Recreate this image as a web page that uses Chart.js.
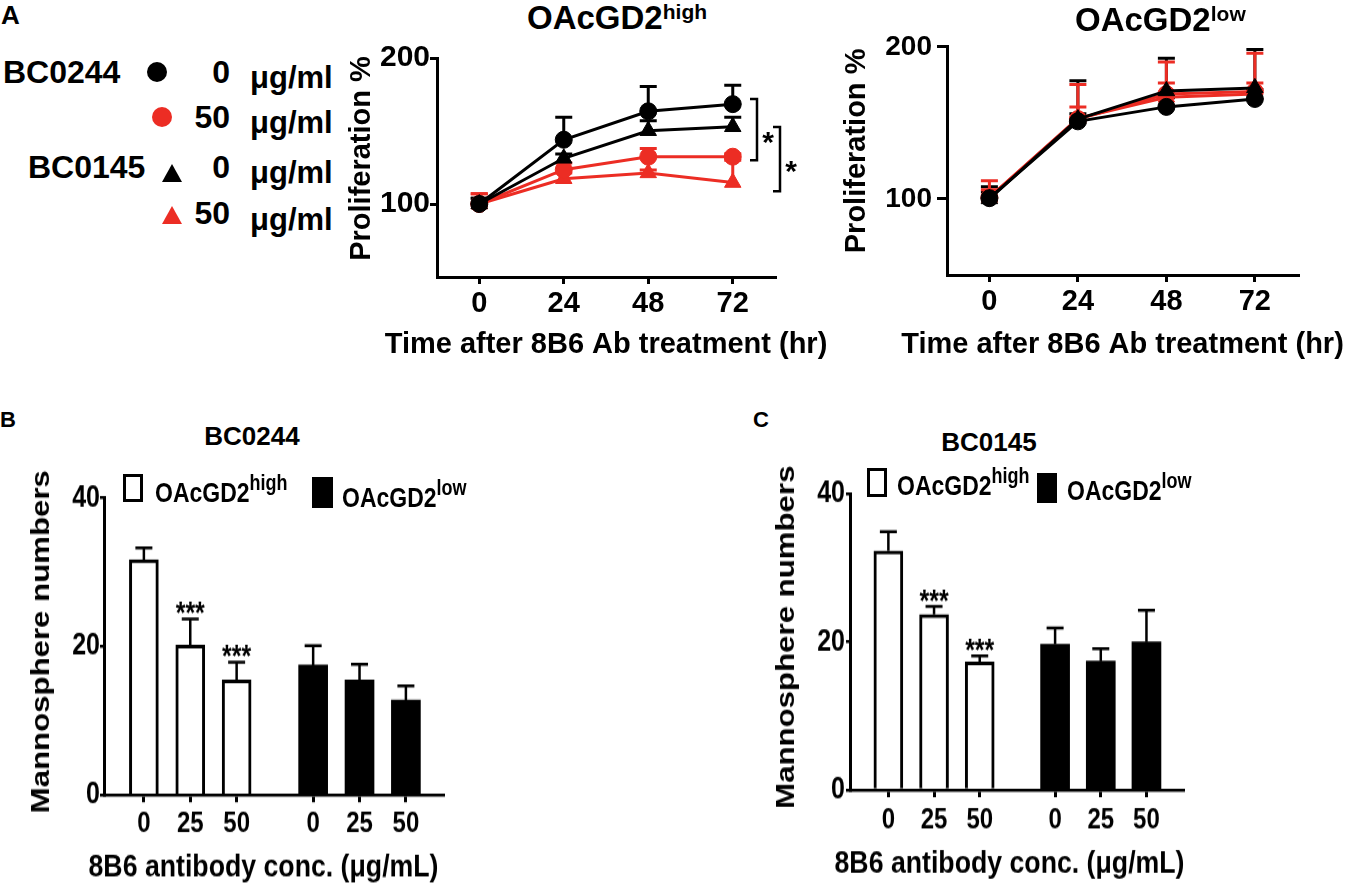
<!DOCTYPE html>
<html>
<head>
<meta charset="utf-8">
<script src="https://cdn.jsdelivr.net/npm/chart.js@4.4.0/dist/chart.umd.min.js"></script>
<style>
body { margin: 0; background: #fff; }
#fig { position: relative; width: 1350px; height: 887px; overflow: hidden; background: #fff;
       font-family: 'Liberation Sans', Arial, sans-serif; font-weight: bold; color: #000; }
#fig canvas { position: absolute; }
.t { position: absolute; line-height: 1; white-space: nowrap; }
.r { text-align: right; }
.sy { transform: scaleY(1.2); transform-origin: 0 0; }
.sup { position: relative; }
.dot { position: absolute; width: 20px; height: 20px; border-radius: 50%; }
.tri { position: absolute; width: 0; height: 0; border-left: 10px solid transparent; border-right: 10px solid transparent; }
.box { position: absolute; box-sizing: border-box; border: 3px solid #000; }
</style>
</head>
<body>
<div id="fig">
  <canvas id="highChart" width="500" height="330" style="left:340px;top:40px;width:500px;height:330px"></canvas>
  <canvas id="lowChart" width="510" height="345" style="left:840px;top:25px;width:510px;height:345px"></canvas>
  <!-- os painéis B e C são esticados na vertical como na figura original -->
  <canvas id="bc0244Chart" width="460" height="356" style="left:0px;top:460px;width:460px;height:356px" class="sy"></canvas>
  <canvas id="bc0145Chart" width="460" height="356" style="left:745px;top:460px;width:460px;height:356px" class="sy"></canvas>

  <!-- letras dos painéis -->
  <div class="t" style="left:1px;top:2px;font-size:26px">A</div>
  <div class="t" style="left:0px;top:409px;font-size:22px">B</div>
  <div class="t" style="left:753px;top:409px;font-size:22px">C</div>

  <!-- legenda do painel A -->
  <div class="t" style="left:3px;top:56px;font-size:32px">BC0244</div>
  <div class="dot" style="left:147px;top:62px;background:#000"></div>
  <div class="t r" style="right:1120px;top:56px;font-size:32px">0</div>
  <div class="t" style="left:250px;top:62px;font-size:31px">&mu;g/ml</div>

  <div class="dot" style="left:152px;top:107px;background:#ec2d24"></div>
  <div class="t r" style="right:1120px;top:101px;font-size:32px">50</div>
  <div class="t" style="left:250px;top:107px;font-size:31px">&mu;g/ml</div>

  <div class="t" style="left:28px;top:151px;font-size:32px">BC0145</div>
  <div class="tri" style="left:162px;top:164px;border-bottom:18px solid #000"></div>
  <div class="t r" style="right:1120px;top:151px;font-size:32px">0</div>
  <div class="t" style="left:250px;top:157px;font-size:31px">&mu;g/ml</div>

  <div class="tri" style="left:162px;top:206px;border-bottom:18px solid #ec2d24"></div>
  <div class="t r" style="right:1120px;top:197px;font-size:32px">50</div>
  <div class="t" style="left:250px;top:204px;font-size:31px">&mu;g/ml</div>

  <!-- títulos do painel A -->
  <div class="t" style="left:527px;top:1px;font-size:33px">OAcGD2<span class="sup" style="font-size:21px;top:-10px">high</span></div>
  <div class="t" style="left:1075px;top:3px;font-size:33px">OAcGD2<span class="sup" style="font-size:21px;top:-10px">low</span></div>

  <!-- títulos e legendas dos painéis B e C -->
  <div class="t" style="left:152px;width:200px;text-align:center;top:423px;font-size:26px">BC0244</div>
  <div class="box" style="left:123px;top:474px;width:20px;height:28px;background:#fff"></div>
  <div class="t sy" style="left:155px;top:478.6px;font-size:23px">OAcGD2<span class="sup" style="font-size:18px;top:-10px">high</span></div>
  <div class="box" style="left:312px;top:477px;width:21px;height:31px;background:#000"></div>
  <div class="t sy" style="left:342px;top:483.6px;font-size:23px">OAcGD2<span class="sup" style="font-size:18px;top:-10px">low</span></div>

  <div class="t" style="left:889px;width:200px;text-align:center;top:429px;font-size:26px">BC0145</div>
  <div class="box" style="left:867px;top:468px;width:20px;height:29px;background:#fff"></div>
  <div class="t sy" style="left:897px;top:471.6px;font-size:23px">OAcGD2<span class="sup" style="font-size:18px;top:-10px">high</span></div>
  <div class="box" style="left:1037px;top:473px;width:20px;height:30px;background:#000"></div>
  <div class="t sy" style="left:1067px;top:476.6px;font-size:23px">OAcGD2<span class="sup" style="font-size:18px;top:-10px">low</span></div>
</div>

<script>
// ---- dados do painel A (proliferação %) ----
const horas = [0, 24, 48, 72];
const ticksHoras = [0, 24, 48, 72];
const ticksProlif = [100, 200];

// OAcGD2 high
const high_BC0244_0 = [100, 144, 163.5, 168.4];
const high_BC0244_0_err = [4, 15.5, 17, 13];
const high_BC0145_0 = [100, 131.3, 150.2, 152.9];
const high_BC0145_0_err = [4, 3, 6.8, 6.6];
const high_BC0244_50 = [100, 123.5, 132.4, 132.4];
const high_BC0244_50_err = [7, 4.5, 5.6, 2];
const high_BC0145_50 = [100, 117.3, 121.3, 114.7];
const high_BC0145_50_err = [7, 4, 2, 15.3];
// colchetes de significância (valor superior, valor inferior) e marcas
const colchetes = [[172, 130], [152.7, 108.7]];
const marcasColchetes = ['*', '*'];

// OAcGD2 low
const low_BC0244_0 = [100.5, 151, 160.5, 165.7];
const low_BC0244_0_err = [4, 5, 6, 6.3];
const low_BC0145_0 = [100, 152.5, 171, 173];
const low_BC0145_0_err = [8, 25.2, 21.4, 25.3];
const low_BC0244_50 = [101, 152.5, 168.9, 170.6];
const low_BC0244_50_err = [5, 8, 7.3, 5.6];
const low_BC0145_50 = [101, 153, 166.8, 168.9];
const low_BC0145_50_err = [11, 22.2, 23.2, 26.9];

// ---- dados dos painéis B e C (mamosferas) ----
const concentracoes = ['0', '25', '50'];
const ticksContagem = [0, 20, 40];

const bc0244_high = [31.7, 20.2, 15.5];
const bc0244_high_err = [1.6, 3.5, 2.4];
const bc0244_low = [17.5, 15.5, 12.8];
const bc0244_low_err = [2.6, 2.1, 1.9];
const bc0244_estrelas = ['', '***', '***'];

const bc0145_high = [32.3, 23.7, 17.3];
const bc0145_high_err = [2.6, 1.1, 0.8];
const bc0145_low = [19.7, 17.4, 20.0];
const bc0145_low_err = [2.2, 1.7, 4.3];
const bc0145_estrelas = ['', '***', '***'];

const PRETO = '#000';
const VERMELHO = '#ec2d24';
const FONTE = "'Liberation Sans', Arial, sans-serif";
const DESLOC_GRUPO = 3.65; // distância entre o grupo high e o grupo low no eixo x

Chart.defaults.animation = false;
Chart.defaults.color = PRETO;
Chart.defaults.font.family = FONTE;
Chart.defaults.font.weight = 'bold';

// Plugin: barras de erro (só para cima) e asteriscos
const barrasErro = {
    id: 'barrasErro',
    beforeDatasetsDraw(chart, args, opts) {
        const ctx = chart.ctx;
        const y = chart.scales.y;
        chart.data.datasets.forEach((ds, i) => {
            if (!ds.erros) return;
            const meta = chart.getDatasetMeta(i);
            ctx.save();
            ctx.strokeStyle = ds.corErro;
            ctx.lineWidth = opts.espessura || 3;
            meta.data.forEach((el, j) => {
                const v = ds.data[j].y;
                const base = y.getPixelForValue(v);
                const topo = y.getPixelForValue(v + ds.erros[j]);
                ctx.beginPath();
                ctx.moveTo(el.x, base);
                ctx.lineTo(el.x, topo);
                ctx.moveTo(el.x - 8.5, topo);
                ctx.lineTo(el.x + 8.5, topo);
                ctx.stroke();
            });
            ctx.restore();
        });
    },
    afterDatasetsDraw(chart, args, opts) {
        const ctx = chart.ctx;
        const y = chart.scales.y;
        chart.data.datasets.forEach((ds, i) => {
            if (!ds.estrelas) return;
            const meta = chart.getDatasetMeta(i);
            ctx.save();
            ctx.fillStyle = PRETO;
            ctx.font = 'bold 25px ' + FONTE;
            ctx.textAlign = 'center';
            ctx.textBaseline = 'alphabetic';
            meta.data.forEach((el, j) => {
                if (!ds.estrelas[j]) return;
                const topo = y.getPixelForValue(ds.data[j].y + ds.erros[j]);
                ctx.fillText(ds.estrelas[j], el.x, topo + 3.5);
            });
            ctx.restore();
        });
    }
};

// Plugin: títulos dos eixos (o título nativo encolhe o texto à largura da área)
const titulosEixos = {
    id: 'titulosEixos',
    afterDraw(chart, args, opts) {
        const ctx = chart.ctx;
        const area = chart.chartArea;
        ctx.save();
        ctx.fillStyle = PRETO;
        ctx.textAlign = 'center';
        if (opts.x) {
            ctx.font = 'bold ' + opts.x.tamanho + 'px ' + FONTE;
            ctx.textBaseline = 'alphabetic';
            ctx.fillText(opts.x.texto, (area.left + area.right) / 2 + (opts.x.dx || 0), opts.x.base);
        }
        if (opts.y) {
            ctx.font = 'bold ' + opts.y.tamanho + 'px ' + FONTE;
            ctx.textBaseline = 'middle';
            ctx.translate(opts.y.cx, (area.top + area.bottom) / 2 + (opts.y.dy || 0));
            ctx.rotate(-Math.PI / 2);
            ctx.fillText(opts.y.texto, 0, 0);
        }
        ctx.restore();
    }
};

// Plugin: colchetes de significância à direita do gráfico
const colchetesSig = {
    id: 'colchetesSig',
    afterDraw(chart) {
        const ctx = chart.ctx;
        const y = chart.scales.y;
        const area = chart.chartArea;
        ctx.save();
        ctx.strokeStyle = PRETO;
        ctx.fillStyle = PRETO;
        ctx.lineWidth = 2.5;
        ctx.font = 'bold 30px ' + FONTE;
        ctx.textAlign = 'center';
        colchetes.forEach((c, i) => {
            const x = area.right - 18 + i * 23;
            const y1 = y.getPixelForValue(c[0]);
            const y2 = y.getPixelForValue(c[1]);
            ctx.beginPath();
            ctx.moveTo(x - 7, y1);
            ctx.lineTo(x, y1);
            ctx.lineTo(x, y2);
            ctx.lineTo(x - 7, y2);
            ctx.stroke();
            ctx.fillText(marcasColchetes[i], x + 11, (y1 + y2) / 2 + 22);
        });
        ctx.restore();
    }
};

function serie(rotulo, valores, erros, cor, estilo) {
    return {
        label: rotulo,
        data: horas.map((h, i) => ({ x: h, y: valores[i] })),
        erros: erros,
        corErro: cor,
        borderColor: cor,
        backgroundColor: cor,
        pointBackgroundColor: cor,
        pointBorderColor: cor,
        pointBorderWidth: 1,
        pointStyle: estilo,
        pointRadius: estilo === 'triangle' ? 9.5 : 8.5,
        borderWidth: 3,
        tension: 0,
        clip: false
    };
}

function eixoLinha(cfg) {
    return {
        x: {
            type: 'linear',
            min: cfg.xMin, max: cfg.xMax,
            afterBuildTicks: s => { s.ticks = ticksHoras.map(v => ({ value: v })); },
            afterFit: s => { s.height = cfg.alturaX; },
            border: { display: true, color: PRETO, width: 3 },
            grid: { display: true, offset: false, drawOnChartArea: false, drawTicks: true, tickLength: 7, color: PRETO, lineWidth: 3 },
            ticks: { font: { size: 29, weight: 'bold' }, color: PRETO, padding: 3, maxRotation: 0, autoSkip: false }
        },
        y: {
            min: 50, max: 200,
            afterBuildTicks: s => { s.ticks = ticksProlif.map(v => ({ value: v })); },
            afterFit: s => { s.width = cfg.larguraY; },
            border: { display: true, color: PRETO, width: 3 },
            grid: { display: true, drawOnChartArea: false, drawTicks: true, tickLength: cfg.tickY, color: PRETO, lineWidth: 3 },
            ticks: { font: { size: cfg.fonteTickY, weight: 'bold' }, color: PRETO, padding: cfg.padTickY }
        }
    };
}

// Painel A - OAcGD2 high
new Chart(document.getElementById('highChart'), {
    type: 'line',
    data: {
        datasets: [
            serie('BC0244 0 μg/ml', high_BC0244_0, high_BC0244_0_err, PRETO, 'circle'),
            serie('BC0145 0 μg/ml', high_BC0145_0, high_BC0145_0_err, PRETO, 'triangle'),
            serie('BC0244 50 μg/ml', high_BC0244_50, high_BC0244_50_err, VERMELHO, 'circle'),
            serie('BC0145 50 μg/ml', high_BC0145_50, high_BC0145_50_err, VERMELHO, 'triangle')
        ]
    },
    options: {
        responsive: false,
        layout: { padding: { left: 0, top: 12, right: 65, bottom: 0 } },
        plugins: {
            legend: { display: false }, tooltip: { enabled: false },
            barrasErro: { espessura: 3 },
            titulosEixos: {
                x: { texto: 'Time after 8B6 Ab treatment (hr)', tamanho: 29, base: 313 },
                y: { texto: 'Proliferation %', tamanho: 29, cx: 22, dy: -9 }
            }
        },
        scales: eixoLinha({ xMin: -12, xMax: 84, alturaX: 93, larguraY: 97, tickY: 7, fonteTickY: 30, padTickY: 0 })
    },
    plugins: [barrasErro, colchetesSig, titulosEixos]
});

// Painel A - OAcGD2 low
new Chart(document.getElementById('lowChart'), {
    type: 'line',
    data: {
        datasets: [
            serie('BC0244 0 μg/ml', low_BC0244_0, low_BC0244_0_err, PRETO, 'circle'),
            serie('BC0145 0 μg/ml', low_BC0145_0, low_BC0145_0_err, PRETO, 'triangle'),
            serie('BC0244 50 μg/ml', low_BC0244_50, low_BC0244_50_err, VERMELHO, 'circle'),
            serie('BC0145 50 μg/ml', low_BC0145_50, low_BC0145_50_err, VERMELHO, 'triangle')
        ]
    },
    options: {
        responsive: false,
        layout: { padding: { left: 0, top: 12, right: 52, bottom: 0 } },
        plugins: {
            legend: { display: false }, tooltip: { enabled: false },
            barrasErro: { espessura: 3 },
            titulosEixos: {
                x: { texto: 'Time after 8B6 Ab treatment (hr)', tamanho: 29, base: 328 },
                y: { texto: 'Proliferation %', tamanho: 29, cx: 17, dy: -10 }
            }
        },
        scales: eixoLinha({ xMin: -11.5, xMax: 83.7, alturaX: 95, larguraY: 107, tickY: 10, fonteTickY: 28, padTickY: 5 })
    },
    plugins: [barrasErro, titulosEixos]
});

// Painéis B e C - barras (coordenadas internas; o canvas é esticado 1.2x na vertical)
function graficoBarras(id, alto, altoErr, baixo, baixoErr, estrelas, cfg) {
    const posicoes = concentracoes.map((_, i) => i).concat(concentracoes.map((_, i) => i + DESLOC_GRUPO));
    return new Chart(document.getElementById(id), {
        type: 'bar',
        data: {
            datasets: [
                {
                    label: 'OAcGD2 high',
                    data: alto.map((v, i) => ({ x: i, y: v })),
                    erros: altoErr, corErro: PRETO, estrelas: estrelas,
                    backgroundColor: '#fff', borderColor: PRETO, borderWidth: 3,
                    barThickness: 29, grouped: false
                },
                {
                    label: 'OAcGD2 low',
                    data: baixo.map((v, i) => ({ x: i + DESLOC_GRUPO, y: v })),
                    erros: baixoErr, corErro: PRETO,
                    backgroundColor: PRETO, borderColor: PRETO, borderWidth: 0,
                    barThickness: 29, grouped: false
                }
            ]
        },
        options: {
            responsive: false,
            layout: { padding: { left: 0, top: cfg.padTopo, right: cfg.padDir, bottom: 0 } },
            plugins: {
                legend: { display: false }, tooltip: { enabled: false },
                barrasErro: { espessura: 2.5 },
                titulosEixos: {
                    x: { texto: '8B6 antibody conc. (μg/mL)', tamanho: 26.7, base: cfg.baseTituloX, dx: cfg.dxTituloX },
                    y: { texto: 'Mannosphere numbers', tamanho: 26, cx: 42, dy: -4 }
                }
            },
            scales: {
                x: {
                    type: 'linear',
                    offset: false,
                    min: cfg.xMin, max: cfg.xMax,
                    afterBuildTicks: s => { s.ticks = posicoes.map(v => ({ value: v })); },
                    afterFit: s => { s.height = cfg.alturaX; },
                    border: { display: true, color: PRETO, width: 2.5 },
                    grid: { display: true, offset: false, drawOnChartArea: false, drawTicks: true, tickLength: 6, color: PRETO, lineWidth: 3 },
                    ticks: {
                        font: { size: 24, weight: 'bold' }, color: PRETO,
                        padding: cfg.padTickX, maxRotation: 0, autoSkip: false,
                        callback: (v, i) => concentracoes[i % concentracoes.length]
                    }
                },
                y: {
                    min: 0, max: 40,
                    afterBuildTicks: s => { s.ticks = ticksContagem.map(v => ({ value: v })); },
                    afterFit: s => { s.width = cfg.larguraY; },
                    border: { display: true, color: PRETO, width: 3 },
                    grid: { display: true, drawOnChartArea: false, drawTicks: true, tickLength: 4, color: PRETO, lineWidth: 2.5 },
                    ticks: { font: { size: 25, weight: 'bold' }, color: PRETO, padding: cfg.padTickY }
                }
            }
        },
        plugins: [barrasErro, titulosEixos]
    });
}

graficoBarras('bc0244Chart', bc0244_high, bc0244_high_err, bc0244_low, bc0244_low_err, bc0244_estrelas,
    { padTopo: 31.7, padDir: 17, alturaX: 76.8, larguraY: 104, xMin: -0.86, xMax: 6.45,
      padTickX: 4.2, padTickY: 0, baseTituloX: 347.2, dxTituloX: -10 });
graficoBarras('bc0145Chart', bc0145_high, bc0145_high_err, bc0145_low, bc0145_low_err, bc0145_estrelas,
    { padTopo: 28.3, padDir: 22, alturaX: 81, larguraY: 105, xMin: -0.84, xMax: 6.45,
      padTickX: 4.8, padTickY: 1, baseTituloX: 344.4, dxTituloX: -7 });
</script>
</body>
</html>
